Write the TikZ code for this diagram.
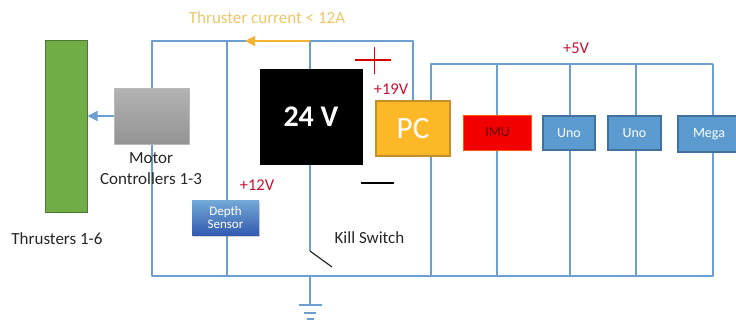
\documentclass[tikz,border=0pt]{standalone}
\usepackage{fontspec}
\setmainfont{Carlito}
\usetikzlibrary{arrows.meta,shadows}
\definecolor{wire}{HTML}{6A9FD0}
\definecolor{redlab}{HTML}{C8102E}
\definecolor{orangeline}{HTML}{F5B335}
\definecolor{pcfill}{HTML}{FDB827}
\definecolor{thr}{HTML}{EBC766}
\definecolor{unoblue}{HTML}{5B9BD0}
\definecolor{unoedge}{HTML}{41719C}
\definecolor{thrgreen}{HTML}{70AD47}
\tikzset{
  box/.style={draw,inner sep=0pt,anchor=center,line width=1pt},
  wireline/.style={draw=wire,line width=1.5pt,line join=round},
  unobox/.style={box,fill=unoblue,draw=unoedge,line width=1.3pt,text=white,font=\fontsize{14}{14}\selectfont},
  redtext/.style={text=redlab,font=\fontsize{16.5}{16.5}\selectfont,inner sep=0pt},
  blacktext/.style={text=black!85,font=\fontsize{17}{17}\selectfont,inner sep=0pt,align=center},
  bighead/.style={-{Triangle[length=10pt,width=10pt]}},
  polarity/.style={draw=red!85!black,line width=1.2pt},
}
\begin{document}
\begin{tikzpicture}[x=1pt,y=-1pt]
\useasboundingbox (0,0) rectangle (736,322);
\clip (0,0) rectangle (736,322);
% boxes
\node[box,fill=thrgreen,draw=thrgreen!70!black,minimum width=42pt,minimum height=172pt] (thrusters) at (66,126) {};
\node[box,top color=black!30,bottom color=black!42,draw=black!28,minimum width=75pt,minimum height=56pt] (motor) at (151.5,116) {};
\node[box,fill=black,draw=black,text=white,font=\fontsize{30}{30}\selectfont\bfseries,minimum width=102pt,minimum height=95pt] (batt) at (311,116.5) {24 V};
\node[box,fill=pcfill,draw=orangeline!80!black,line width=1.3pt,text=white,font=\fontsize{31}{31}\selectfont,minimum width=74pt,minimum height=55pt] (pc) at (413,128.5) {PC};
\node[box,fill=red!95!black,draw=orange!70!red,text=black!60!red,font=\fontsize{14}{14}\selectfont,minimum width=68pt,minimum height=35pt] (imu) at (497.5,132.5) {IMU};
\node[unobox,minimum width=52pt,minimum height=34pt] (uno1) at (569,133) {Uno};
\node[unobox,minimum width=53pt,minimum height=34pt] (uno2) at (634.5,133) {Uno};
\node[unobox,minimum width=62pt,minimum height=36pt] (mega) at (709,134) {Mega};
% junctions
\coordinate (tl) at (152,41);
\coordinate (tdepth) at (227,41);
\coordinate (arrowend) at (245,41);
\coordinate (tbatt) at (310,41);
\coordinate (tr) at (413,41);
\coordinate (bl) at (152,276);
\coordinate (bdepth) at (227,276);
\coordinate (bsw) at (310,276);
\coordinate (swtop) at (310,251);
\coordinate (swend) at (332,267);
\coordinate (b1) at (431,276);
\coordinate (b2) at (497,276);
\coordinate (b3) at (570,276);
\coordinate (b4) at (636,276);
\coordinate (br) at (713,276);
\coordinate (t1) at (431,64);
\coordinate (t2) at (497,64);
\coordinate (t3) at (570,64);
\coordinate (t4) at (636,64);
\coordinate (t5) at (713,64);
\coordinate (gnd) at (310,305);
% wires
\draw[wireline] (motor.north -| tl) -- (tl) -- (tr) -- (tr |- pc.north);
\draw[wireline] (motor.south -| bl) -- (bl) -- (br) -- (br |- mega.south);
\draw[wireline] (tdepth) -- (bdepth);
\draw[wireline] (tbatt) -- (batt.north -| tbatt);
\draw[wireline] (batt.south -| swtop) -- (swtop);
\draw[line width=1.2pt,black!85] (swtop) -- (swend);
\draw[wireline] (bsw) -- (gnd);
\draw[wireline] (t5) -- (t1) -- (t1 |- pc.north);
\draw[wireline] (t1 |- pc.south) -- (b1);
\draw[wireline] (t2) -- (t2 |- imu.north);
\draw[wireline] (t2 |- imu.south) -- (b2);
\draw[wireline] (t3) -- (t3 |- uno1.north);
\draw[wireline] (t3 |- uno1.south) -- (b3);
\draw[wireline] (t4) -- (t4 |- uno2.north);
\draw[wireline] (t4 |- uno2.south) -- (b4);
\draw[wireline] (t5) -- (t5 |- mega.north);
% depth sensor sits on its wire
\node[box,top color=unoblue!85!white,bottom color=unoedge!80!blue,draw=none,text=white,drop shadow={shadow xshift=1pt,shadow yshift=-1.5pt,opacity=.35},font=\fontsize{13}{14}\selectfont,align=center,minimum width=67pt,minimum height=35pt] (depth) at (225.5,217.5) {Depth\\[-1pt]Sensor};
% arrows
\draw[draw=orangeline,line width=1.5pt,bighead] (tbatt) -- (arrowend);
\draw[wireline,bighead] (motor.west) -- (motor.west -| thrusters.east);
% ground symbol
\draw[wireline] (299,305) -- (322,305);
\draw[wireline] (304,313) -- (316,313);
\draw[wireline] (307,319) -- (314,319);
% polarity marks
\draw[polarity] (355,60) -- (391,60);
\draw[polarity] (374.5,47) -- (374.5,74);
\draw[black,line width=1.3pt] (361,183) -- (394,183);
% labels
\node[text=thr,font=\fontsize{17}{17}\selectfont,inner sep=0pt] (lthr) at (267,18) {Thruster current < 12A};
\node[redtext] (l5) at (576,48) {+5V};
\node[redtext] (l19) at (391,89) {+19V};
\node[redtext] (l12) at (257,185) {+12V};
\node[blacktext] (lmotor) at (151,158) {Motor};
\node[blacktext] (lctrl) at (151,179) {Controllers 1-3};
\node[blacktext] (lthrs) at (57,239) {Thrusters 1-6};
\node[blacktext] (lkill) at (369.5,238) {Kill Switch};
\end{tikzpicture}
\end{document}
